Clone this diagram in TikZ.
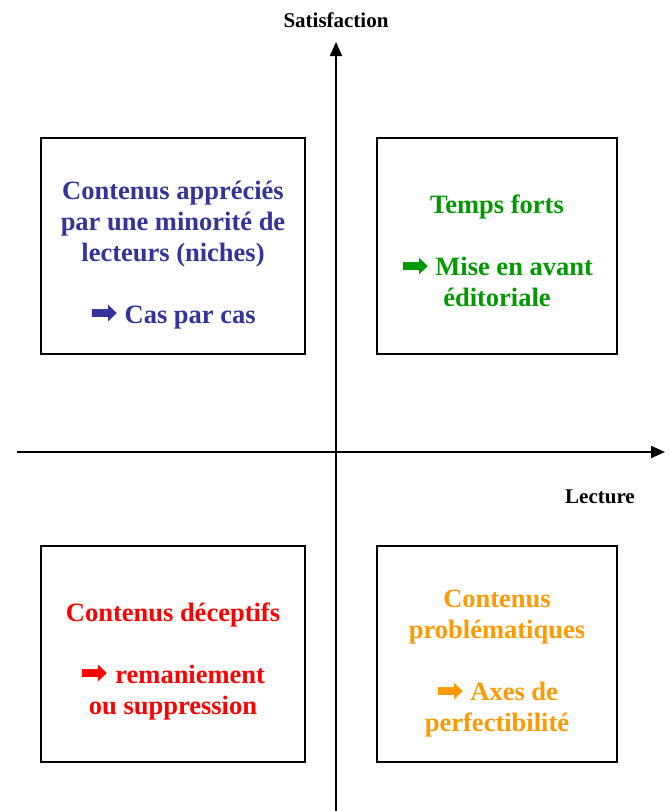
\documentclass[tikz,border=0pt]{standalone}
\usepackage{fontspec}
\setmainfont{Liberation Serif}
\newfontfamily\arrowfont{DejaVu Sans}
\usepackage{graphicx}
\usepackage{tikz}
\usetikzlibrary{arrows.meta}
\definecolor{niche}{RGB}{51, 51, 153}
\definecolor{fort}{RGB}{0, 153, 0}
\definecolor{decu}{RGB}{255, 0, 0}
\definecolor{probl}{RGB}{255, 153, 0}
\newcommand{\fleche}{\raisebox{-0.5pt}{\scalebox{1.25}[1.2]{\arrowfont\char"27A1}}}

\begin{document}
\begin{tikzpicture}[
   x=1pt, y=-1pt,
   quad/.style={rectangle, draw=black, line width=1.5, minimum height=216},
   quadtext/.style={align=center, font=\fontsize{26.5}{31}\selectfont\bfseries},
   axelabel/.style={font=\fontsize{21}{25}\selectfont\bfseries, text=black},
   axe/.style={-{Triangle[length=14, width=12]}, line width=1.8}
  ]

  \useasboundingbox (0, 0) rectangle (671, 811);

  % Quadrants
  \node (Q1) at (173, 246) [quad, minimum width=264] {};
  \node (Q2) at (497, 246) [quad, minimum width=240] {};
  \node (Q3) at (173, 654) [quad, minimum width=264] {};
  \node (Q4) at (497, 654) [quad, minimum width=240] {};

  \node (T1) at ([yshift=-9]Q1.center) [quadtext, text=niche]
    { Contenus appréciés\\par une minorité de\\lecteurs (niches)\\[31pt]
      \fleche\ Cas par cas };
  \node (T2) at ([yshift=-5]Q2.center) [quadtext, text=fort]
    { Temps forts\\[31pt]\fleche\ Mise en avant\\éditoriale };
  \node (T3) at ([yshift=-7]Q3.center) [quadtext, text=decu]
    { Contenus déceptifs\\[31pt]\fleche\ remaniement\\ou suppression };
  \node (T4) at ([yshift=-10]Q4.center) [quadtext, text=probl]
    { Contenus\\problématiques\\[31pt]\fleche\ Axes de\\perfectibilité };

  % Axes
  \coordinate (Ybas) at (336, 811);
  \coordinate (Yhaut) at (336, 42);
  \coordinate (Xgauche) at (17, 452);
  \coordinate (Xdroite) at (665, 452);

  \foreach \B/\E in {Ybas/Yhaut, Xgauche/Xdroite} {
    \draw[axe] (\B) -- (\E);
  }

  \node (Sat) at (336, 20) [axelabel] {Satisfaction};
  \node (Lec) at (600, 497) [axelabel] {Lecture};

\end{tikzpicture}
\end{document}
